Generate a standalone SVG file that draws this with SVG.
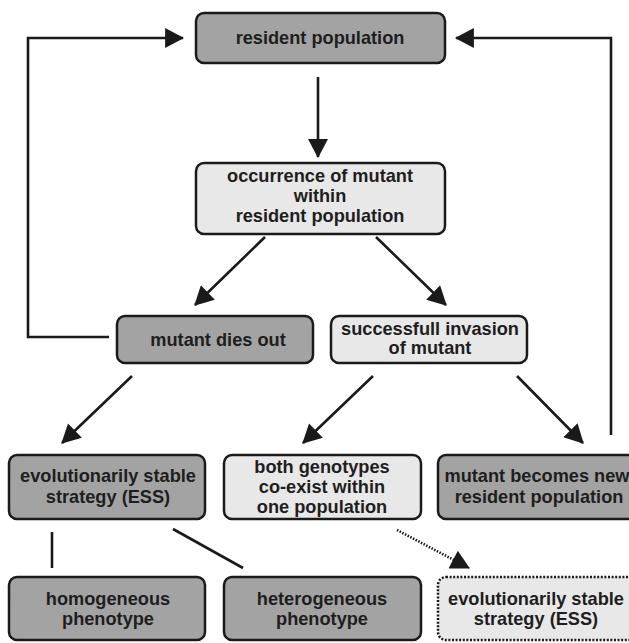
<svg xmlns="http://www.w3.org/2000/svg" width="629" height="643" viewBox="0 0 629 643">
<style>
.box{stroke:#1a1a1a;stroke-width:2.5}
.dark{fill:#a3a3a3}
.light{fill:#e8e8e8}
.dot{stroke-dasharray:2 1.6}
text{font-family:"Liberation Sans",Arial,sans-serif;font-weight:bold;font-size:18.2px;fill:#1e1e1e;text-anchor:middle}
.c{fill:none;stroke:#1a1a1a;stroke-width:2.6}
.cd{fill:none;stroke:#1a1a1a;stroke-width:2.6;stroke-dasharray:1.5 1.5}
</style>
<defs>
<marker id="ah" markerUnits="userSpaceOnUse" markerWidth="20" markerHeight="20" viewBox="0 0 18 19" refX="17" refY="9.5" orient="auto">
<path d="M0,0 L18,9.5 L0,19 Z" fill="#1a1a1a"/>
</marker>
</defs>
<g id="connectors">
<line class="c" x1="318" y1="77" x2="318" y2="157" marker-end="url(#ah)"/>
<line class="c" x1="265" y1="237" x2="195" y2="305" marker-end="url(#ah)"/>
<line class="c" x1="376" y1="237" x2="446" y2="305" marker-end="url(#ah)"/>
<polyline class="c" points="109,337 28,337 28,38 183,38" marker-end="url(#ah)"/>
<polyline class="c" points="611,435 611,38 456,38" marker-end="url(#ah)"/>
<line class="c" x1="132" y1="376" x2="62" y2="443" marker-end="url(#ah)"/>
<line class="c" x1="373" y1="376" x2="303" y2="443" marker-end="url(#ah)"/>
<line class="c" x1="517" y1="376" x2="583" y2="443" marker-end="url(#ah)"/>
<line class="c" x1="52" y1="532" x2="52" y2="568"/>
<line class="c" x1="173" y1="529" x2="243" y2="568"/>
<line class="cd" x1="397" y1="530" x2="469" y2="568" marker-end="url(#ah)"/>
</g>
<g id="resident">
<rect class="box dark" x="196" y="13" width="249" height="50" rx="8"/>
<text x="320" y="44">resident population</text>
</g>
<g id="occurrence">
<rect class="box light" x="196" y="163" width="249" height="71" rx="8"/>
<text x="320" y="182">occurrence of mutant</text>
<text x="320" y="202">within</text>
<text x="320" y="222">resident population</text>
</g>
<g id="diesout">
<rect class="box dark" x="117" y="316" width="196" height="47" rx="8"/>
<text x="218" y="346">mutant dies out</text>
</g>
<g id="invasion">
<rect class="box light" x="331" y="316" width="196" height="47" rx="8"/>
<text x="430" y="335">successfull invasion</text>
<text x="430" y="354">of mutant</text>
</g>
<g id="ess1">
<rect class="box dark" x="9" y="455" width="196" height="64" rx="8"/>
<text x="108" y="482">evolutionarily stable</text>
<text x="108" y="503">strategy (ESS)</text>
</g>
<g id="coexist">
<rect class="box light" x="224" y="455" width="197" height="64" rx="8"/>
<text x="322" y="473">both genotypes</text>
<text x="322" y="493">co-exist within</text>
<text x="322" y="513">one population</text>
</g>
<g id="newresident">
<rect class="box dark" x="438" y="455" width="200" height="64" rx="8"/>
<text x="537" y="482">mutant becomes new</text>
<text x="539" y="503">resident population</text>
</g>
<g id="homogeneous">
<rect class="box dark" x="9" y="577" width="196" height="63" rx="8"/>
<text x="108" y="605">homogeneous</text>
<text x="108" y="625">phenotype</text>
</g>
<g id="heterogeneous">
<rect class="box dark" x="224" y="577" width="197" height="63" rx="8"/>
<text x="322" y="605">heterogeneous</text>
<text x="322" y="625">phenotype</text>
</g>
<g id="ess2">
<rect class="box light dot" x="438" y="577" width="200" height="63" rx="8"/>
<text x="536" y="605">evolutionarily stable</text>
<text x="536" y="625">strategy (ESS)</text>
</g>
</svg>
